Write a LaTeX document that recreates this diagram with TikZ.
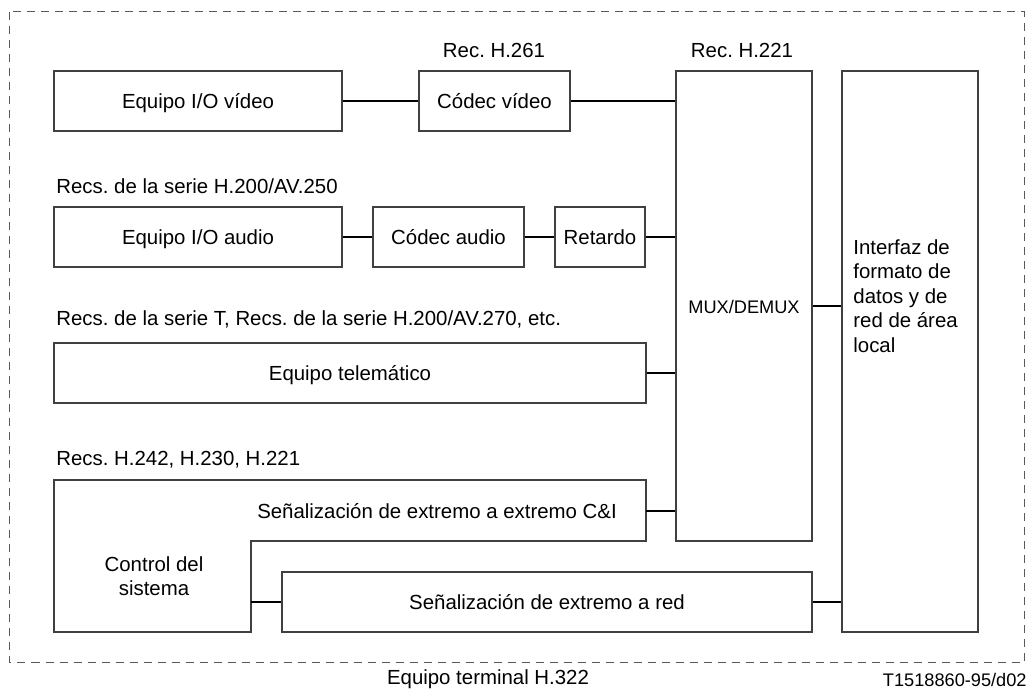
\documentclass[tikz,border=0pt]{standalone}
\usepackage{fontspec}
\setmainfont{Liberation Sans}
\frenchspacing
\begin{document}
\begin{tikzpicture}[x=0.5pt,y=-0.5pt,
  every node/.style={font=\fontsize{10.2}{12.25}\selectfont, text=black},
  one/.style={text height=7.3pt, text depth=0pt},
  box/.style={draw=black!75, line width=0.65pt, inner sep=0pt, one},
  conn/.style={draw=black, line width=0.95pt},
  lbl/.style={inner sep=0pt},
  outer/.style={draw=black!65, line width=0.5pt, dash pattern=on 4pt off 3pt}]
\useasboundingbox (0,0) rectangle (1031,690);
\draw[outer] (9.5,12) rectangle (1024,662);
% boxes
\node[box, minimum width=144pt, minimum height=30pt] (vio) at (198,101) {Equipo I/O vídeo};
\node[box, minimum width=75.5pt, minimum height=30pt] (cvid) at (494.5,101) {Códec vídeo};
\node[box, minimum width=144pt, minimum height=30pt] (aio) at (198,237) {Equipo I/O audio};
\node[box, minimum width=75.5pt, minimum height=30pt] (caud) at (448.5,237) {Códec audio};
\node[box, minimum width=45pt, minimum height=30pt] (ret) at (600,237) {Retardo};
\node[box, minimum width=296pt, minimum height=30pt] (tel) at (350,373) {Equipo telemático};
\node[box, minimum width=265pt, minimum height=30pt] (red) at (547,602) {Señalización de extremo a red};
\node[box, minimum width=68pt, minimum height=235pt] (mux) at (744,306) {\fontsize{9.1}{11}\selectfont MUX/DEMUX};
\node[box, minimum width=68pt, minimum height=280.5pt] (intf) at (910,351.5) {};
\node[lbl, anchor=west, align=left] (intft) at (853,296) {Interfaz de\\formato de\\datos y de\\red de área\\local};
% control del sistema
\draw[draw=black!75, line width=0.65pt] (54,480) -- (646,480) -- (646,541) -- (251,541) -- (251,632) -- (54,632) -- cycle;
\node[lbl, one] (cni) at (437,511) {Señalización de extremo a extremo C\&I};
\node[lbl, align=center] (ctrl) at (154,576) {Control del\\sistema};
\coordinate (cniport) at (646,511);
\coordinate (ctrlport) at (251,602);
% connectors
\draw[conn] (vio.east) -- (cvid.west);
\draw[conn] (cvid.east) -- (cvid.east -| mux.west);
\draw[conn] (aio.east) -- (caud.west);
\draw[conn] (caud.east) -- (ret.west);
\draw[conn] (ret.east) -- (ret.east -| mux.west);
\draw[conn] (tel.east) -- (tel.east -| mux.west);
\draw[conn] (cniport) -- (cniport -| mux.west);
\draw[conn] (mux.east) -- (mux.east -| intf.west);
\draw[conn] (ctrlport) -- (ctrlport -| red.west);
\draw[conn] (red.east) -- (red.east -| intf.west);
% labels
\node[lbl, one] (l261) at (494,50) {Rec. H.261};
\node[lbl, one] (l221) at (742,50) {Rec. H.221};
\node[lbl, one, anchor=west] (l250) at (56,186) {Recs. de la serie H.200/AV.250};
\node[lbl, one, anchor=west] (l270) at (56,318) {Recs. de la serie T, Recs. de la serie H.200/AV.270, etc.};
\node[lbl, one, anchor=west] (l242) at (56,458) {Recs. H.242, H.230, H.221};
\node[lbl, one] (term) at (488,677) {Equipo terminal H.322};
\node[lbl, one, anchor=east] (code) at (1027,679) {\fontsize{9.1}{11}\selectfont T1518860-95/d02};
\end{tikzpicture}
\end{document}
